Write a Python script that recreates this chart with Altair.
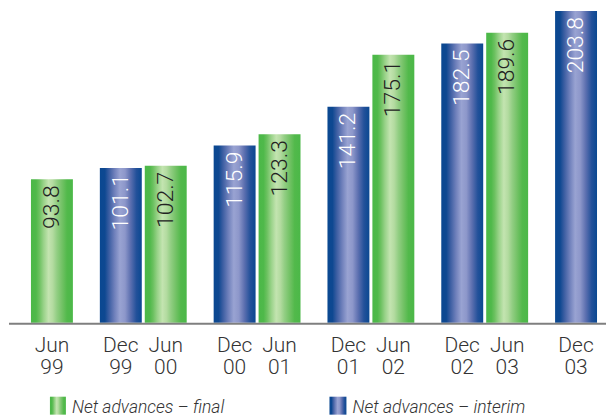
import altair as alt
import pandas as pd

periods = ["Jun\n99", "Dec\n99", "Jun\n00", "Dec\n00", "Jun\n01", "Dec\n01", "Jun\n02", "Dec\n02", "Jun\n03", "Dec\n03"]
values = [93.8, 101.1, 102.7, 115.9, 123.3, 141.2, 175.1, 182.5, 189.6, 203.8]
kinds = ["final", "interim", "final", "interim", "final", "interim", "final", "interim", "final", "interim"]
legend_labels = ["Net advances \u2013 final", "Net advances \u2013 interim"]

# layout: pairs (Dec, Jun) grouped; first Jun99 sits in the slot after an empty Dec98
OFFSET = 22.5 / 114
rows = []
for i, (p, v, k) in enumerate(zip(periods, values, kinds)):
    slot = i + 1
    group = slot // 2
    side = slot % 2  # 0 = Dec (left), 1 = Jun (right)
    pos = group + (OFFSET if side == 1 else -OFFSET)
    rows.append({"period": p, "value": v, "kind": k, "pos": pos,
                 "label": f"{v:.1f}"})
df = pd.DataFrame(rows)

W, H = 599, 315
xs = alt.Scale(domain=[-21.5 / 114, (W - 21.5) / 114], nice=False, zero=False, padding=0)
ys = alt.Scale(domain=[0, 205.5], nice=False, padding=0)

green = alt.LinearGradient(
    gradient="linear", x1=0, x2=1, y1=0, y2=0,
    stops=[
        alt.GradientStop(color="#4bb848", offset=0),
        alt.GradientStop(color="#4fb94a", offset=0.12),
        alt.GradientStop(color="#6cc160", offset=0.2),
        alt.GradientStop(color="#98d288", offset=0.3),
        alt.GradientStop(color="#c3e4b0", offset=0.42),
        alt.GradientStop(color="#b3dba0", offset=0.52),
        alt.GradientStop(color="#92ce83", offset=0.62),
        alt.GradientStop(color="#73c266", offset=0.74),
        alt.GradientStop(color="#52b94b", offset=0.86),
        alt.GradientStop(color="#4bb848", offset=1),
    ],
)
blue = alt.LinearGradient(
    gradient="linear", x1=0, x2=1, y1=0, y2=0,
    stops=[
        alt.GradientStop(color="#0a4891", offset=0),
        alt.GradientStop(color="#0e4891", offset=0.12),
        alt.GradientStop(color="#3c5ea2", offset=0.22),
        alt.GradientStop(color="#6f80bb", offset=0.35),
        alt.GradientStop(color="#99a3d2", offset=0.48),
        alt.GradientStop(color="#8d97ca", offset=0.6),
        alt.GradientStop(color="#5d70b0", offset=0.73),
        alt.GradientStop(color="#23519a", offset=0.87),
        alt.GradientStop(color="#0a4891", offset=1),
    ],
)

base = alt.Chart(df)
xenc = alt.X("pos:Q", scale=xs, axis=None)
yenc = alt.Y("value:Q", scale=ys, axis=None)

bars_final = base.transform_filter(alt.datum.kind == "final").mark_bar(
    width=42, color=green, stroke=None).encode(x=xenc, y=yenc)
bars_interim = base.transform_filter(alt.datum.kind == "interim").mark_bar(
    width=42, color=blue, stroke=None).encode(x=xenc, y=yenc)

font = "Roboto"
labels = base.mark_text(angle=270, align="right", baseline="middle", dx=-6,
                        fontSize=23, font=font, fontWeight=300).encode(
    x=xenc, y=yenc, text="label:N",
    color=alt.condition(alt.datum.kind == "final", alt.value("#222222"), alt.value("#ffffff")),
)

baseline_rule = alt.Chart(pd.DataFrame({"a": [0]})).mark_rule(
    color="#7f7f7f", strokeWidth=2).encode(
    x=alt.value(1), x2=alt.value(W), y=alt.value(H + 1))

xlabels = base.mark_text(align="center", baseline="alphabetic", fontSize=21,
                         font=font, fontWeight=300, color="#333333",
                         lineBreak="\n", lineHeight=22).encode(
    x=xenc, y=alt.value(344), text="period:N")

one = pd.DataFrame({"a": [0]})
sw_green = alt.Chart(one).mark_rect(color=green).encode(
    x=alt.value(42), x2=alt.value(58), y=alt.value(389), y2=alt.value(407))
sw_blue = alt.Chart(one).mark_rect(color=blue).encode(
    x=alt.value(322), x2=alt.value(339), y=alt.value(389), y2=alt.value(407))
lg_green = alt.Chart(pd.DataFrame({"t": [legend_labels[0]]})).mark_text(
    align="left", baseline="alphabetic", fontSize=17.5, font=font, fontWeight=300,
    fontStyle="italic", color="#333333").encode(
    x=alt.value(64), y=alt.value(405), text="t:N")
lg_blue = alt.Chart(pd.DataFrame({"t": [legend_labels[1]]})).mark_text(
    align="left", baseline="alphabetic", fontSize=17.5, font=font, fontWeight=300,
    fontStyle="italic", color="#333333").encode(
    x=alt.value(345), y=alt.value(405), text="t:N")

chart = alt.layer(
    bars_final, bars_interim, labels, baseline_rule, xlabels,
    sw_green, sw_blue, lg_green, lg_blue,
).properties(width=W, height=H, padding=0).configure_view(stroke=None)

chart.save("out.html", embed_options={"renderer": "svg", "actions": False})
